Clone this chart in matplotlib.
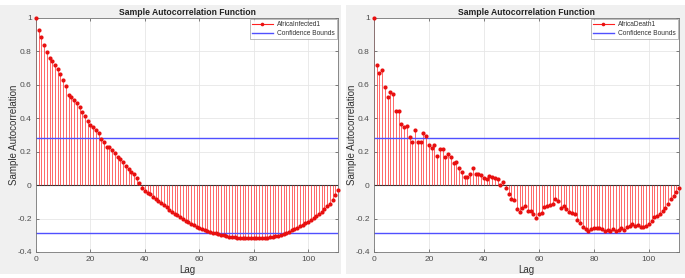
import numpy as np
import matplotlib
matplotlib.use("Agg")
import matplotlib.pyplot as plt
from matplotlib.lines import Line2D
from matplotlib.patches import Rectangle
from matplotlib.legend_handler import HandlerLine2D

plt.rcParams['font.family'] = ['Liberation Sans', 'DejaVu Sans']

# sample autocorrelation, lags 0..111
acf_infected = [1.0, 0.93, 0.886, 0.837, 0.797, 0.763, 0.743, 0.719, 0.697, 0.667,
                0.627, 0.592, 0.540, 0.528, 0.512, 0.492, 0.466, 0.44, 0.412, 0.386,
                0.36, 0.345, 0.331, 0.311, 0.279, 0.259, 0.231, 0.227, 0.211, 0.191,
                0.169, 0.157, 0.140, 0.114, 0.096, 0.08, 0.065, 0.04, 0.01, -0.02,
                -0.035, -0.045, -0.055, -0.068, -0.08, -0.093, -0.106, -0.12, -0.133, -0.146,
                -0.158, -0.17, -0.181, -0.192, -0.203, -0.213, -0.223, -0.232, -0.241, -0.249,
                -0.257, -0.264, -0.27, -0.276, -0.281, -0.285, -0.289, -0.293, -0.297, -0.301,
                -0.304, -0.308, -0.311, -0.313, -0.315, -0.317, -0.318, -0.318, -0.317, -0.316,
                -0.315, -0.316, -0.317, -0.317, -0.316, -0.315, -0.313, -0.31, -0.306, -0.302,
                -0.298, -0.292, -0.285, -0.278, -0.27, -0.262, -0.254, -0.246, -0.238, -0.229,
                -0.22, -0.21, -0.198, -0.186, -0.172, -0.158, -0.143, -0.127, -0.11, -0.09,
                -0.06, -0.027]

acf_death = [1.0, 0.717, 0.671, 0.686, 0.590, 0.526, 0.56, 0.546, 0.442, 0.442,
             0.363, 0.347, 0.355, 0.291, 0.257, 0.331, 0.257, 0.26, 0.313, 0.297,
             0.243, 0.225, 0.239, 0.177, 0.217, 0.217, 0.169, 0.185, 0.167, 0.133,
             0.139, 0.103, 0.08, 0.048, 0.046, 0.066, 0.10, 0.066, 0.066, 0.06,
             0.04, 0.036, 0.052, 0.046, 0.042, 0.036, 0.0, 0.02, -0.018, -0.054,
             -0.084, -0.09, -0.143, -0.163, -0.137, -0.123, -0.157, -0.153, -0.173, -0.199,
             -0.173, -0.169, -0.13, -0.123, -0.117, -0.11, -0.084, -0.094, -0.137, -0.123,
             -0.143, -0.159, -0.169, -0.173, -0.209, -0.229, -0.253, -0.263, -0.277, -0.263,
             -0.259, -0.259, -0.257, -0.265, -0.273, -0.269, -0.273, -0.263, -0.277, -0.267,
             -0.257, -0.269, -0.253, -0.243, -0.233, -0.243, -0.237, -0.249, -0.249, -0.243,
             -0.233, -0.213, -0.193, -0.183, -0.173, -0.153, -0.137, -0.113, -0.083, -0.064,
             -0.044, -0.02]

bound = 0.285
series_names = ['AfricaInfected1', 'AfricaDeath1']


class EndMarkerHandler(HandlerLine2D):
    # matlab puts the stem marker at the right end of the legend line
    def get_xdata(self, legend, xdescent, ydescent, width, height, fontsize):
        xd, _ = super().get_xdata(legend, xdescent, ydescent, width, height, fontsize)
        return xd, [xd[-1] - 3]


W, H = 685, 278
fig = plt.figure(figsize=(W / 100, H / 100), dpi=100, facecolor='white')

# grey panel backgrounds (two screenshots side by side)
fig.patches.append(Rectangle((0, 4 / H), 341 / W, 269 / H, transform=fig.transFigure,
                             facecolor='#f0f0f0', edgecolor='none', zorder=-10))
fig.patches.append(Rectangle((346 / W, 4 / H), 339 / W, 269 / H, transform=fig.transFigure,
                             facecolor='#f0f0f0', edgecolor='none', zorder=-10))

boxes = [(36, 338), (374, 679)]
data = [acf_infected, acf_death]
gray = '#4d4d4d'

for (x0, x1), acf, name in zip(boxes, data, series_names):
    ax = fig.add_axes([x0 / W, (H - 252) / H, (x1 - x0) / W, (252 - 18) / H])
    ax.set_facecolor('white')
    lags = np.arange(len(acf))
    ml, sl, bl = ax.stem(lags, acf, basefmt=' ')
    plt.setp(sl, color='#ff3030', linewidth=0.6, alpha=0.85)
    plt.setp(ml, color='#e81010', markersize=3.0, markeredgewidth=0, clip_on=False,
             zorder=4)
    ax.axhline(0, color='#333333', linewidth=0.8, zorder=1)
    ax.axhline(bound, color='#5050ff', linewidth=1.0)
    ax.axhline(-bound, color='#5050ff', linewidth=1.0)

    ax.set_xlim(0, 111)
    ax.set_ylim(-0.4, 1.0)
    ax.set_xticks([0, 20, 40, 60, 80, 100])
    ax.set_yticks([-0.4, -0.2, 0, 0.2, 0.4, 0.6, 0.8, 1])
    ax.set_yticklabels(['-0.4', '-0.2', '0', '0.2', '0.4', '0.6', '0.8', '1'])
    ax.grid(True, color='#e6e6e6', linewidth=0.6)
    ax.set_axisbelow(True)
    ax.tick_params(direction='in', length=2.5, width=0.5, labelsize=6, colors=gray,
                   top=True, right=True, pad=3)
    for sp in ax.spines.values():
        sp.set_color('#777777')
        sp.set_linewidth(0.6)
    ax.set_title('Sample Autocorrelation Function', fontsize=6.2, fontweight='bold',
                 color='#222222', pad=2.5)
    ax.set_xlabel('Lag', fontsize=7, color='#333333', labelpad=1)
    ax.set_ylabel('Sample Autocorrelation', fontsize=7, color='#333333')
    ax.yaxis.set_label_coords(-0.055, 0.5)

    h1 = Line2D([], [], color='#ff2020', linewidth=0.8, marker='o', markersize=2.6,
                markerfacecolor='#e81010', markeredgewidth=0)
    h2 = Line2D([], [], color='#5050ff', linewidth=1.0)
    leg = ax.legend([h1, h2], [name, 'Confidence Bounds'], loc='upper right',
                    fontsize=4.8, frameon=True, fancybox=False, borderaxespad=0.2,
                    handlelength=3.2, handletextpad=0.6, borderpad=0.3, labelspacing=0.25,
                    numpoints=1, handler_map={h1: EndMarkerHandler(numpoints=1)})
    leg.get_frame().set_edgecolor('#888888')
    leg.get_frame().set_linewidth(0.5)
    for t in leg.get_texts():
        t.set_color('#333333')

fig.savefig('out.png', dpi=100, facecolor='white')
